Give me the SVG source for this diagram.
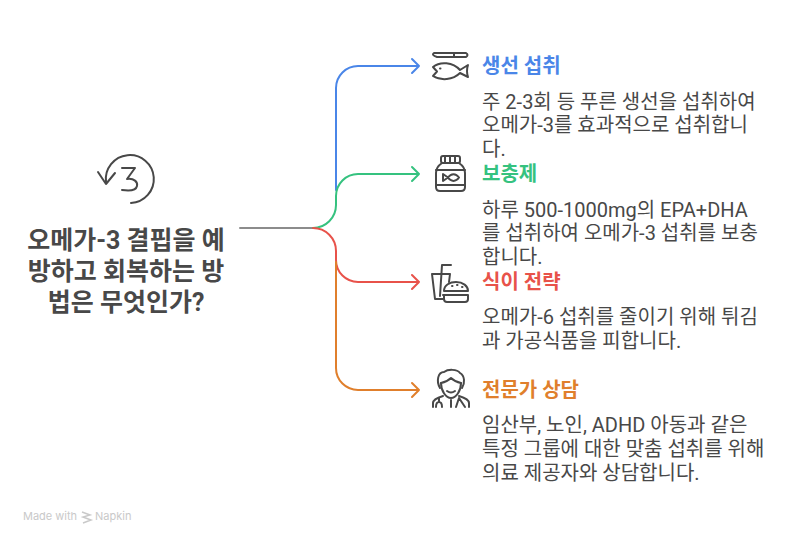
<svg xmlns="http://www.w3.org/2000/svg" width="804" height="544" viewBox="0 0 804 544">
<style>
text{font-family:Roboto,"Noto Sans CJK KR",sans-serif}
.t{font-size:20px;font-weight:700}
.b{font-size:20px;fill:#484848}
.m{font-size:25px;font-weight:700;fill:#484848;text-anchor:middle}
.c{fill:none;stroke-width:2;stroke-linecap:round;stroke-linejoin:round}
.i{fill:none;stroke:#484848;stroke-width:2;stroke-linecap:round;stroke-linejoin:round}
</style>
<rect width="804" height="544" fill="#fff"/>
<g id="connectors">
<path class="c" d="M240 228H313" stroke="#8c8c8c"/>
<path class="c" stroke="#4a86e8" d="M336 190V88A22 22 0 0 1 358 66H419M412 59L419 66L412 73"/>
<path class="c" stroke="#35c27f" d="M313 228A23 23 0 0 0 336 205V196A22 22 0 0 1 358 174H419M412 167L419 174L412 181"/>
<path class="c" stroke="#e8524a" d="M313 228A23 23 0 0 1 336 251V260A22 22 0 0 0 358 282H419M412 275L419 282L412 289"/>
<path class="c" stroke="#e07f2c" d="M336 262V368A22 22 0 0 0 358 390H419M412 383L419 390L412 397"/>
</g>
<g id="center">
<g class="i">
<path d="M106 182A24 24 0 1 1 131 203"/>
<path d="M98 172L106 184L115 173"/>
<path d="M122 168H135L127 179C134 178 138 182 137 186C136 191 129 191 122 190"/>
</g>
<text class="m" x="126" y="249">오메가-3 결핍을 예</text>
<text class="m" x="126" y="280">방하고 회복하는 방</text>
<text class="m" x="126" y="311">법은 무엇인가?</text>
</g>
<g id="node-fish">
<g class="i">
<path d="M434 53H466Q469 55 466 57H437Q431 55 434 53ZM454 53V57"/>
<path d="M433 67C440 61 453 62 460 70L468 65Q466 71 468 77L460 73C453 80 441 81 433 76L437 71.500Z"/>
<path d="M440 68.500H440.500" />
</g>
<text class="t" x="482" y="73" fill="#4a86e8">생선 섭취</text>
<text class="b"><tspan x="482" y="109">주 2-3회 등 푸른 생선을 섭취하여</tspan><tspan x="482" y="132">오메가-3를 효과적으로 섭취합니</tspan><tspan x="482" y="156">다.</tspan></text>
</g>
<g id="node-supplement">
<g class="i">
<rect x="441" y="156" width="19" height="7" rx="2"/>
<path d="M445 156V163M450 156V163M455 156V163"/>
<path d="M442 163Q436 167 436 173V187Q436 191 440 191H461Q465 191 465 187V173Q465 167 459 163"/>
<path d="M436 170H465M436 185H465"/>
<path d="M443 174L448 177.500C451 173 456 173 459 177.500C456 182 451 182 448 177.500L443 181Z"/>
</g>
<text class="t" x="482" y="181" fill="#35c27f">보충제</text>
<text class="b"><tspan x="482" y="217">하루 500-1000mg의 EPA+DHA</tspan><tspan x="482" y="240">를 섭취하여 오메가-3 섭취를 보충</tspan><tspan x="482" y="264">합니다.</tspan></text>
</g>
<g id="node-diet">
<g class="i">
<path d="M432 274H450M432 274L435 299H443M450 274L449 282"/>
<path d="M440 296L442 265H451"/>
<path d="M444 291C444 285 450 282 456 282C463 282 468 286 468 291ZM443 295H468M444 295V299Q444 302 447 302H465Q468 302 468 299V295"/>
<path d="M452 286H452.500M457 285H457.500M462 287H462.500"/>
</g>
<text class="t" x="482" y="289" fill="#e8524a">식이 전략</text>
<text class="b"><tspan x="482" y="324">오메가-6 섭취를 줄이기 위해 튀김</tspan><tspan x="482" y="348">과 가공식품을 피합니다.</tspan></text>
</g>
<g id="node-doctor">
<g class="i">
<path d="M440 388C436 381 438 372 444 372C448 369 457 369 460 373C465 376 465 383 462 388"/>
<path d="M441 383C446 382 449 380 451 378C453 380 456 382 461 383"/>
<path d="M441 383C441 391 446 398 451 398C456 398 461 391 461 383"/>
<path d="M447 391Q451 394 455 391"/>
<path d="M433 407V403Q433 399 443 396M469 407V403Q469 399 459 396"/>
<path d="M439 398V402M436 407Q436 402 439 402Q442 402 442 407M451 400V407M459 398L456 407M459 398L465 407"/>
</g>
<text class="t" x="482" y="397" fill="#e07f2c">전문가 상담</text>
<text class="b"><tspan x="482" y="432">임산부, 노인, ADHD 아동과 같은</tspan><tspan x="482" y="456">특정 그룹에 대한 맞춤 섭취를 위해</tspan><tspan x="482" y="480">의료 제공자와 상담합니다.</tspan></text>
</g>
<g id="watermark">
<text x="23" y="520" font-size="11" fill="#c9c9c9" style="font-family:Inter,sans-serif">Made with</text>
<path d="M82 512L90 515L83 517L91 520L83 523" fill="none" stroke="#c9c9c9" stroke-width="1.500"/>
<text x="95" y="520" font-size="11" fill="#c9c9c9" style="font-family:Inter,sans-serif">Napkin</text>
</g>
</svg>
